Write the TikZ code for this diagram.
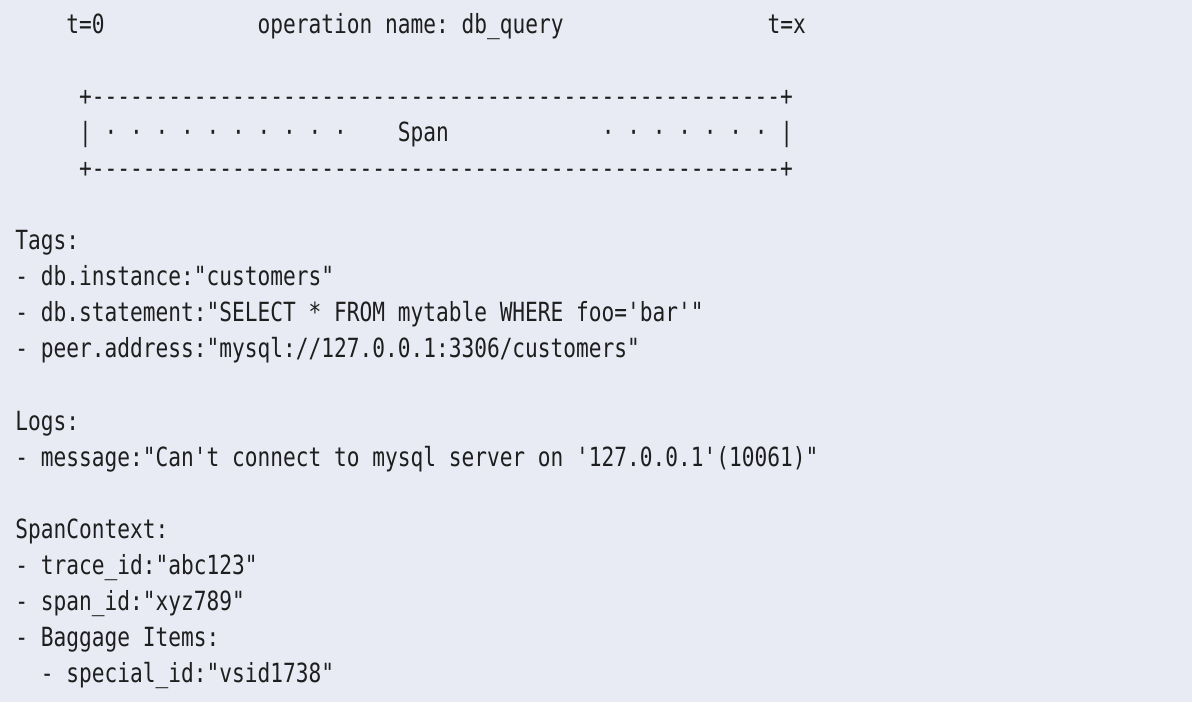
\documentclass[tikz,border=0pt]{standalone}
\usepackage{fontspec}
\setmonofont{DejaVu Sans Mono}[FakeStretch=0.802]
\definecolor{pagebg}{RGB}{232,234,244}
\definecolor{ink}{RGB}{30,30,30}
\newcommand{\dashrun}{\foreach \k in {1,...,54}{-}}

\begin{document}
\begin{tikzpicture}[x=6.375pt,y=-18.05pt,every node/.style={anchor=base west,
 inner sep=0pt,text=ink,font=\ttfamily\fontsize{13.2pt}{16pt}\selectfont}]

  \fill[pagebg] (-7.5pt,16.5pt) rectangle (588.5pt,-334.5pt);
  \useasboundingbox (-7.5pt,16.5pt) rectangle (588.5pt,-334.5pt);

  \node (tstart) at (4,0) {t=0};
  \node (opname) at (19,0) {operation name: db\_query};
  \node (tend) at (59,0) {t=x};

  \node (boxtop) at (5,2) {+\dashrun+};
  \node (barl) at (5,3) {|};
  \foreach \c in {7,9,...,25} \node (dl\c) at (\c,3) {·};
  \node (span) at (30,3) {Span};
  \foreach \c in {46,48,...,58} \node (dr\c) at (\c,3) {·};
  \node (barr) at (60,3) {|};
  \node (boxbot) at (5,4) {+\dashrun+};

  \node (tags) at (0,6) {Tags:};
  \node (tag1) at (0,7) {- db.instance:"customers"};
  \node (tag2) at (0,8) {- db.statement:"SELECT * FROM mytable WHERE foo='bar'"};
  \node (tag3) at (0,9) {- peer.address:"mysql://127.0.0.1:3306/customers"};

  \node (logs) at (0,11) {Logs:};
  \node (log1) at (0,12) {- message:"Can't connect to mysql server on '127.0.0.1'(10061)"};

  \node (ctx) at (0,14) {SpanContext:};
  \node (ctx1) at (0,15) {- trace\_id:"abc123"};
  \node (ctx2) at (0,16) {- span\_id:"xyz789"};
  \node (ctx3) at (0,17) {- Baggage Items:};
  \node (ctx4) at (2,18) {- special\_id:"vsid1738"};

\end{tikzpicture}
\end{document}
